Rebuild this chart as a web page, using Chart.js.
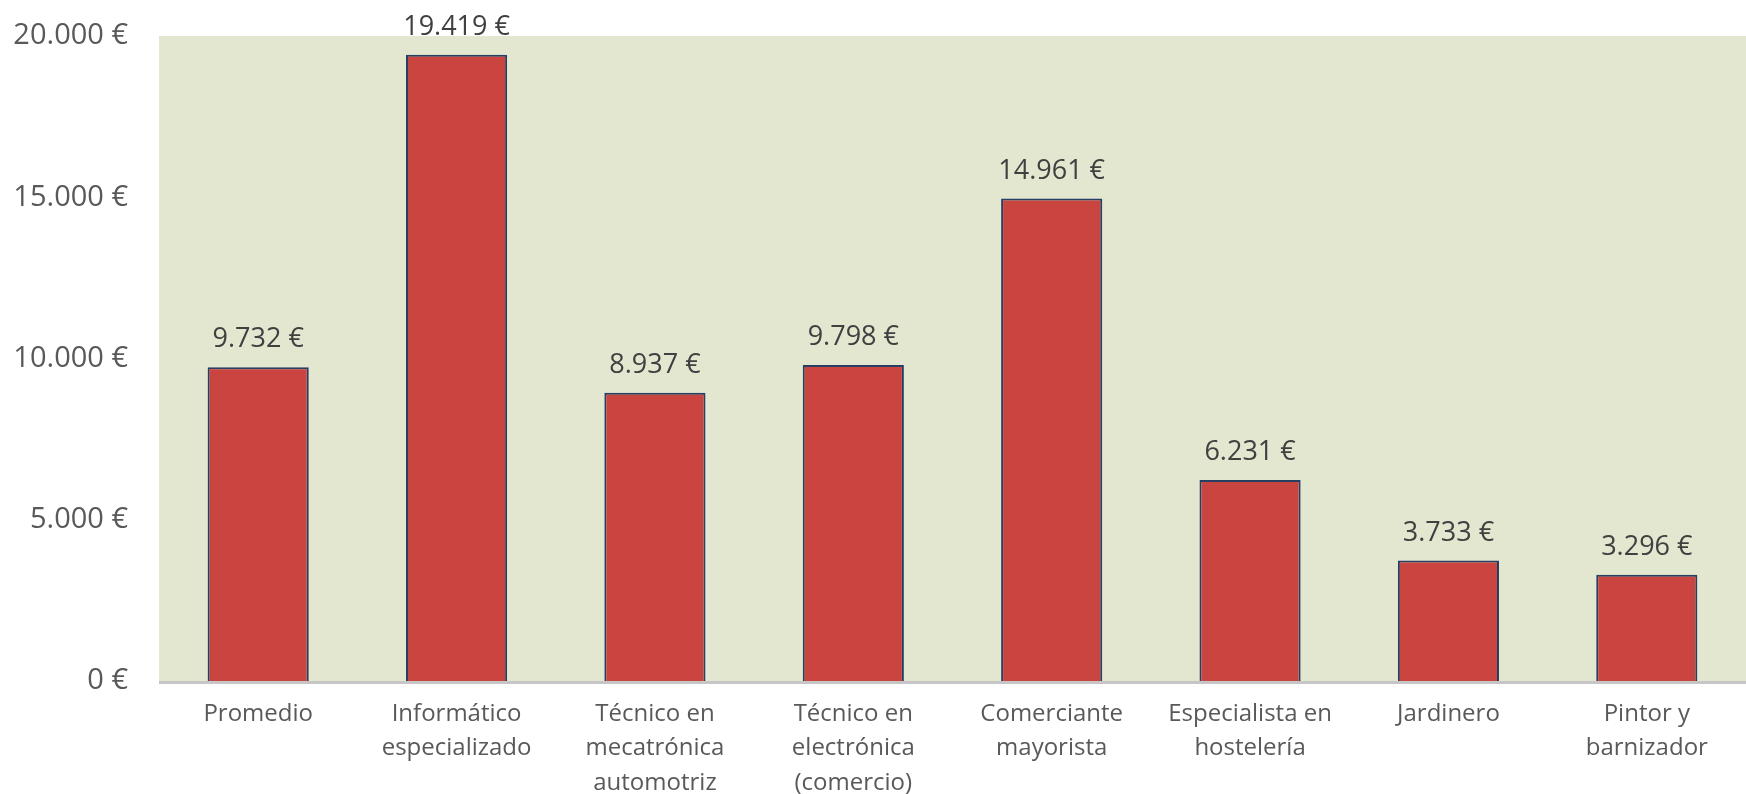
<!DOCTYPE html>
<html>
<head>
<meta charset="utf-8">
<script src="https://cdn.jsdelivr.net/npm/chart.js@4"></script>
<style>
html,body{margin:0;padding:0;background:#fff;}
#wrap{width:1746px;height:794px;position:relative;}
</style>
</head>
<body>
<div id="wrap"><canvas id="c" width="1746" height="794"></canvas></div>
<script>
const categories = [
  ["Promedio"],
  ["Informático", "especializado"],
  ["Técnico en", "mecatrónica", "automotriz"],
  ["Técnico en", "electrónica", "(comercio)"],
  ["Comerciante", "mayorista"],
  ["Especialista en", "hostelería"],
  ["Jardinero"],
  ["Pintor y", "barnizador"]
];
const values = [9732, 19419, 8937, 9798, 14961, 6231, 3733, 3296];
const yTicks = [0, 5000, 10000, 15000, 20000];

function fmtEuro(v) {
  const s = Math.round(v).toString().replace(/\B(?=(\d{3})+(?!\d))/g, ".");
  return s + " €";
}

const plotBg = {
  id: "plotBg",
  beforeDraw(chart) {
    const {ctx, chartArea: a} = chart;
    ctx.save();
    ctx.fillStyle = "#E4E7D0";
    ctx.fillRect(a.left, a.top, a.right - a.left, a.bottom - a.top);
    ctx.restore();
  },
  afterDatasetsDraw(chart) {
    const {ctx, chartArea: a} = chart;
    ctx.save();
    ctx.strokeStyle = "#C6C6C6";
    ctx.lineWidth = 3;
    ctx.beginPath();
    ctx.moveTo(a.left, a.bottom + 1.5);
    ctx.lineTo(a.right, a.bottom + 1.5);
    ctx.stroke();
    const meta = chart.getDatasetMeta(0);
    ctx.font = "27px 'Open Sans'";
    ctx.fillStyle = "#404040";
    ctx.textAlign = "center";
    ctx.textBaseline = "alphabetic";
    meta.data.forEach((bar, i) => {
      ctx.fillText(fmtEuro(values[i]), bar.x, bar.y - 20);
    });
    ctx.restore();
  }
};

new Chart(document.getElementById("c"), {
  type: "bar",
  data: {
    labels: categories,
    datasets: [{
      data: values,
      backgroundColor: "#CB4540",
      borderColor: "#263F63",
      borderWidth: 2,
      categoryPercentage: 1,
      barPercentage: 0.51
    }]
  },
  options: {
    responsive: false,
    animation: false,
    devicePixelRatio: 1,
    layout: {padding: {top: 36, right: 0, left: 0, bottom: 0}},
    plugins: {legend: {display: false}, tooltip: {enabled: false}},
    scales: {
      x: {
        grid: {display: false, drawTicks: false},
        border: {display: false},
        ticks: {
          color: "#595959",
          font: {family: "'Open Sans'", size: 24, lineHeight: 1.43},
          padding: 16,
          maxRotation: 0,
          autoSkip: false
        },
        afterFit(scale) { scale.height = 113; scale.paddingLeft = 0; scale.paddingRight = 0; }
      },
      y: {
        min: 0,
        max: 20000,
        grid: {display: false, drawTicks: false},
        border: {display: false},
        afterBuildTicks(scale) { scale.ticks = yTicks.map(v => ({value: v})); },
        ticks: {
          color: "#595959",
          font: {family: "'Open Sans'", size: 29},
          padding: 31,
          callback: v => fmtEuro(v)
        },
        afterFit(scale) { scale.width = 159; scale.paddingTop = 0; scale.paddingBottom = 0; }
      }
    }
  },
  plugins: [plotBg]
});
</script>
</body>
</html>
